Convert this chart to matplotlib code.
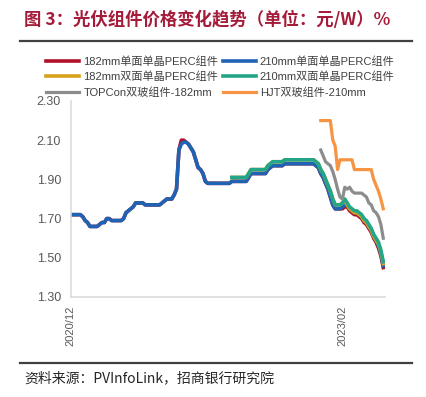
import matplotlib.pyplot as plt
import numpy as np
import pandas as pd

# weekly module prices, yuan/W
start_date = '2020-12-02'
n_weeks = 131
tick_dates = ['2020-12-02', '2023-02-01']

mono_182 = [1.72, 1.72, 1.72, 1.72, 1.72, 1.71, 1.69, 1.68, 1.66, 1.66,
            1.66, 1.66, 1.67, 1.68, 1.68, 1.70, 1.70, 1.69, 1.69, 1.69,
            1.69, 1.69, 1.70, 1.73, 1.74, 1.75, 1.76, 1.78, 1.78, 1.78,
            1.78, 1.77, 1.77, 1.77, 1.77, 1.77, 1.77, 1.77, 1.78, 1.79,
            1.80, 1.80, 1.80, 1.82, 1.85, 2.05, 2.10, 2.10, 2.09, 2.08,
            2.06, 2.04, 2.00, 1.96, 1.95, 1.93, 1.89, 1.88, 1.88, 1.88,
            1.88, 1.88, 1.88, 1.88, 1.88, 1.88, 1.88, 1.89, 1.89, 1.89,
            1.89, 1.89, 1.89, 1.89, 1.91, 1.93, 1.93, 1.93, 1.93, 1.93,
            1.93, 1.93, 1.95, 1.96, 1.97, 1.97, 1.97, 1.97, 1.97, 1.98,
            1.98, 1.98, 1.98, 1.98, 1.98, 1.98, 1.98, 1.98, 1.98, 1.98,
            1.98, 1.98, 1.97, 1.96, 1.93, 1.91, 1.88, 1.85, 1.81, 1.77,
            1.75, 1.75, 1.75, 1.75, 1.76, 1.76, 1.74, 1.73, 1.72, 1.72,
            1.71, 1.70, 1.68, 1.67, 1.65, 1.63, 1.60, 1.58, 1.55, 1.51,
            1.45]

mono_210 = [1.72, 1.72, 1.72, 1.72, 1.72, 1.71, 1.69, 1.68, 1.66, 1.66,
            1.66, 1.66, 1.67, 1.68, 1.68, 1.70, 1.70, 1.69, 1.69, 1.69,
            1.69, 1.69, 1.70, 1.73, 1.74, 1.75, 1.76, 1.78, 1.78, 1.78,
            1.78, 1.77, 1.77, 1.77, 1.77, 1.77, 1.77, 1.77, 1.78, 1.79,
            1.80, 1.80, 1.80, 1.82, 1.85, 2.05, 2.08, 2.09, 2.09, 2.08,
            2.06, 2.04, 2.00, 1.96, 1.95, 1.93, 1.89, 1.88, 1.88, 1.88,
            1.88, 1.88, 1.88, 1.88, 1.88, 1.88, 1.88, 1.89, 1.89, 1.89,
            1.89, 1.89, 1.89, 1.89, 1.91, 1.93, 1.93, 1.93, 1.93, 1.93,
            1.93, 1.93, 1.95, 1.96, 1.97, 1.97, 1.97, 1.97, 1.97, 1.98,
            1.98, 1.98, 1.98, 1.98, 1.98, 1.98, 1.98, 1.98, 1.98, 1.98,
            1.98, 1.98, 1.97, 1.96, 1.93, 1.91, 1.88, 1.85, 1.81, 1.77,
            1.75, 1.75, 1.75, 1.76, 1.77, 1.77, 1.75, 1.74, 1.73, 1.73,
            1.72, 1.71, 1.69, 1.68, 1.66, 1.64, 1.61, 1.59, 1.56, 1.52,
            1.46]

bi_182 = [np.nan] * 67 + [
            1.91, 1.91, 1.91,
            1.91, 1.91, 1.91, 1.91, 1.93, 1.95, 1.95, 1.95, 1.95, 1.95,
            1.95, 1.95, 1.97, 1.98, 1.99, 1.99, 1.99, 1.99, 1.99, 2.00,
            2.00, 2.00, 2.00, 2.00, 2.00, 2.00, 2.00, 2.00, 2.00, 2.00,
            2.00, 2.00, 1.99, 1.98, 1.95, 1.93, 1.90, 1.87, 1.84, 1.80,
            1.77, 1.77, 1.77, 1.78, 1.79, 1.77, 1.75, 1.74, 1.73, 1.73,
            1.72, 1.71, 1.69, 1.68, 1.66, 1.64, 1.61, 1.59, 1.57, 1.53,
            1.47]

bi_210 = [np.nan] * 67 + [
            1.91, 1.91, 1.91,
            1.91, 1.91, 1.91, 1.91, 1.93, 1.95, 1.95, 1.95, 1.95, 1.95,
            1.95, 1.95, 1.97, 1.98, 1.99, 1.99, 1.99, 1.99, 1.99, 2.00,
            2.00, 2.00, 2.00, 2.00, 2.00, 2.00, 2.00, 2.00, 2.00, 2.00,
            2.00, 2.00, 1.99, 1.98, 1.95, 1.93, 1.90, 1.87, 1.84, 1.80,
            1.77, 1.77, 1.77, 1.78, 1.80, 1.78, 1.76, 1.75, 1.74, 1.74,
            1.73, 1.72, 1.70, 1.69, 1.67, 1.65, 1.62, 1.60, 1.58, 1.54,
            1.48]

topcon_182 = [np.nan] * 104 + [
            2.05, 2.02, 1.99, 1.98, 1.97, 1.94,
            1.90, 1.85, 1.81, 1.80, 1.86, 1.85, 1.86, 1.84, 1.83, 1.83,
            1.83, 1.83, 1.82, 1.81, 1.78, 1.77, 1.74, 1.73, 1.71, 1.67,
            1.60]

hjt_210 = [np.nan] * 104 + [
            2.20, 2.20, 2.20, 2.20, 2.20, 2.10,
            2.07, 1.95, 2.00, 2.00, 2.00, 2.00, 2.00, 2.00, 1.95, 1.95,
            1.95, 1.95, 1.95, 1.95, 1.95, 1.95, 1.90, 1.87, 1.84, 1.80,
            1.75]

labels = ['182mm单面单晶PERC组件', '210mm单面单晶PERC组件',
          '182mm双面单晶PERC组件', '210mm双面单晶PERC组件',
          'TOPCon双玻组件-182mm', 'HJT双玻组件-210mm']
colors = ['#B0102A', '#1F63B4', '#D6A21E', '#22A687', '#8C8C8C', '#F79443']
y_ticks = [1.30, 1.50, 1.70, 1.90, 2.10, 2.30]

weeks = pd.date_range(start_date, periods=n_weeks, freq='7D')
series = [mono_182, mono_210, bi_182, bi_210, topcon_182, hjt_210]

fig = plt.figure(figsize=(4.27, 3.97), dpi=100)
ax = fig.add_axes([0.1656, 0.2519, 0.736, 0.4937])

handles = []
for vals, lab, c in zip(series, labels, colors):
    lw = 2.6 if lab[:3] in ('182', '210') else 2.3
    h, = ax.plot(weeks, vals, color=c, lw=lw, label=lab, solid_joinstyle='round')
    handles.append(h)

ax.set_ylim(1.30, 2.30)
ax.set_yticks(y_ticks)
ax.set_yticklabels(['%.2f' % v for v in y_ticks], fontsize=9, color='#595959',
                   family='Liberation Sans')
ax.set_xlim(weeks[0], weeks[-1] + pd.Timedelta(days=5))
ax.set_xticks(pd.to_datetime(tick_dates))
ax.set_xticklabels([pd.Timestamp(d).strftime('%Y/%m') for d in tick_dates],
                   rotation=90, fontsize=8, color='#595959', family='Liberation Sans')
ax.tick_params(axis='y', length=0, pad=7)
ax.tick_params(axis='x', length=0, pad=6)
for s in ['top', 'right']:
    ax.spines[s].set_visible(False)
for s in ['left', 'bottom']:
    ax.spines[s].set_color('#D9D9D9')
    ax.spines[s].set_linewidth(1.1)

# legend rows: 182 | 210 side by side
order = [0, 2, 4, 1, 3, 5]
fig.legend([handles[i] for i in order], [labels[i] for i in order],
           ncol=2, loc='upper left', bbox_to_anchor=(0.108, 0.858),
           frameon=False, borderpad=0, borderaxespad=0,
           handlelength=3.0, handletextpad=0.35, columnspacing=0.4,
           labelspacing=0.44,
           prop={'family': ['Liberation Sans', 'Noto Sans CJK SC'], 'size': 8},
           labelcolor='#404040')

fig.text(0.057, 0.950, '图 3：光伏组件价格变化趋势（单位：元/W）%',
         fontsize=12.5, fontweight='bold', color='#A51C3A',
         family='Noto Sans CJK SC', va='center', ha='left')
fig.add_artist(plt.Line2D([0.047, 0.965], [0.8975, 0.8975], color='#404040',
                          lw=1.6, transform=fig.transFigure))
fig.add_artist(plt.Line2D([0.047, 0.965], [0.085, 0.085], color='#404040',
                          lw=1.6, transform=fig.transFigure))
fig.text(0.056, 0.048, '资料来源：PVInfoLink，招商银行研究院', fontsize=10,
         color='#262626', family='Noto Sans CJK SC', va='center', ha='left')

fig.savefig('out.png', dpi=100)
